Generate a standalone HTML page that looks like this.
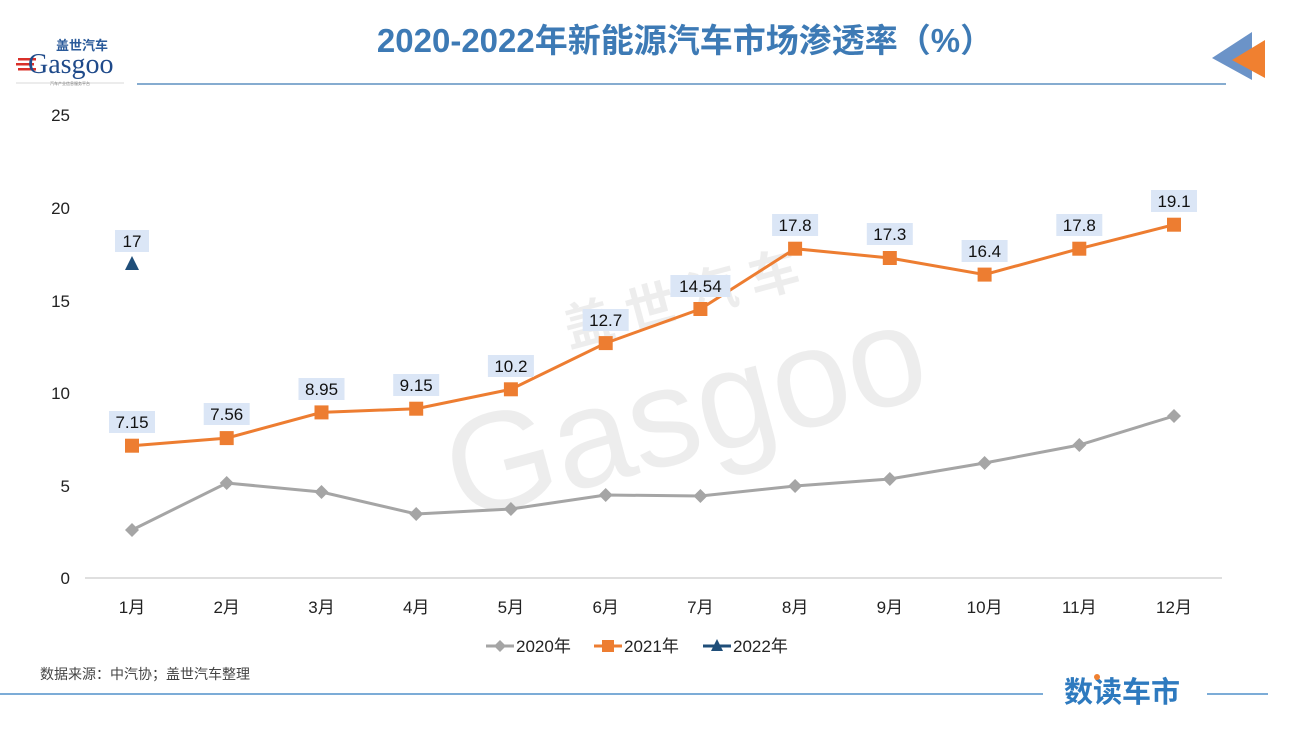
<!DOCTYPE html>
<html><head><meta charset="utf-8"><style>
body{margin:0;background:#fff;}
text{font-family:"Liberation Sans","Noto Sans CJK SC",sans-serif;}
</style></head><body>
<svg width="1298" height="728" xmlns="http://www.w3.org/2000/svg">
<rect width="1298" height="728" fill="#fff"/>
<!-- logo -->
<text x="56" y="50" font-size="13" font-weight="bold" fill="#2a5a9a">盖世汽车</text>
<rect x="18" y="58" width="18" height="2.5" fill="#d9302a"/><rect x="16" y="63" width="18" height="2.5" fill="#d9302a"/><rect x="18" y="68" width="18" height="2.5" fill="#d9302a"/>
<text x="28" y="73" font-size="28" fill="#1f4a8a" style="font-family:'Liberation Serif',serif">Gasgoo</text>
<line x1="16" y1="83" x2="124" y2="83" stroke="#ccc" stroke-width="0.7"/>
<text x="70" y="85" font-size="4" fill="#777" text-anchor="middle">汽车产业信息服务平台</text>
<text x="685" y="52" font-size="33" font-weight="bold" fill="#3d7ab5" text-anchor="middle">2020-2022年新能源汽车市场渗透率（%）</text>
<line x1="137" y1="84" x2="1226" y2="84" stroke="#3d7ab5" stroke-width="1.2"/>
<polygon points="1252,32 1212,58 1252,80" fill="#6b93c8"/>
<polygon points="1265,40 1232,60 1265,78" fill="#f08030"/>
<!-- watermark -->
<g opacity="0.09" fill="#444">
<text x="430" y="470" font-size="140" transform="rotate(-15 640 380)">Gasgoo</text>
<text x="580" y="330" font-size="50" font-weight="bold" transform="rotate(-15 640 380)">盖 世 汽 车</text>
</g>
<!-- y axis labels -->
<g font-size="17" fill="#222" text-anchor="end">
<text x="70" y="121">25</text><text x="70" y="214">20</text><text x="70" y="307">15</text><text x="70" y="399">10</text><text x="70" y="492">5</text><text x="70" y="584">0</text>
</g>
<line x1="85" y1="578" x2="1222" y2="578" stroke="#bfbfbf" stroke-width="1"/>
<g font-size="17" fill="#222" text-anchor="middle">
<text x="132" y="613">1月</text><text x="226.7" y="613">2月</text><text x="321.5" y="613">3月</text><text x="416.2" y="613">4月</text><text x="510.9" y="613">5月</text><text x="605.7" y="613">6月</text><text x="700.4" y="613">7月</text><text x="795.1" y="613">8月</text><text x="889.8" y="613">9月</text><text x="984.6" y="613">10月</text><text x="1079.3" y="613">11月</text><text x="1174" y="613">12月</text>
</g>
<!-- 2020 -->
<polyline fill="none" stroke="#a5a5a5" stroke-width="3" points="132,530 226.7,483 321.5,492 416.2,514 510.9,509 605.7,495 700.4,496 795.1,486 889.8,479 984.6,463 1079.3,445 1174,416"/>
<g fill="#a5a5a5">
<polygon points="132,523 139,530 132,537 125,530"/><polygon points="226.7,476 233.7,483 226.7,490 219.7,483"/><polygon points="321.5,485 328.5,492 321.5,499 314.5,492"/><polygon points="416.2,507 423.2,514 416.2,521 409.2,514"/><polygon points="510.9,502 517.9,509 510.9,516 503.9,509"/><polygon points="605.7,488 612.7,495 605.7,502 598.7,495"/><polygon points="700.4,489 707.4,496 700.4,503 693.4,496"/><polygon points="795.1,479 802.1,486 795.1,493 788.1,486"/><polygon points="889.8,472 896.8,479 889.8,486 882.8,479"/><polygon points="984.6,456 991.6,463 984.6,470 977.6,463"/><polygon points="1079.3,438 1086.3,445 1079.3,452 1072.3,445"/><polygon points="1174,409 1181,416 1174,423 1167,416"/>
</g>
<!-- 2021 -->
<polyline fill="none" stroke="#ed7d31" stroke-width="3" points="132,445.7 226.7,438.1 321.5,412.4 416.2,408.7 510.9,389.3 605.7,343.1 700.4,309 795.1,248.7 889.8,258 984.6,274.6 1079.3,248.7 1174,224.7"/>
<g fill="#ed7d31">
<rect x="125" y="438.7" width="14" height="14"/><rect x="219.7" y="431.1" width="14" height="14"/><rect x="314.5" y="405.4" width="14" height="14"/><rect x="409.2" y="401.7" width="14" height="14"/><rect x="503.9" y="382.3" width="14" height="14"/><rect x="598.7" y="336.1" width="14" height="14"/><rect x="693.4" y="302" width="14" height="14"/><rect x="788.1" y="241.7" width="14" height="14"/><rect x="882.8" y="251" width="14" height="14"/><rect x="977.6" y="267.6" width="14" height="14"/><rect x="1072.3" y="241.7" width="14" height="14"/><rect x="1167" y="217.7" width="14" height="14"/>
</g>
<!-- labels -->
<g fill="#dbe6f6">
<rect x="109" y="411" width="46" height="22"/><rect x="203.7" y="403" width="46" height="22"/><rect x="298.5" y="378" width="46" height="22"/><rect x="393.2" y="374" width="46" height="22"/><rect x="487.9" y="355" width="46" height="22"/><rect x="582.7" y="309" width="46" height="22"/><rect x="670.4" y="275" width="60" height="22"/><rect x="772.1" y="214" width="46" height="22"/><rect x="866.8" y="223" width="46" height="22"/><rect x="961.6" y="240" width="46" height="22"/><rect x="1056.3" y="214" width="46" height="22"/><rect x="1151" y="190" width="46" height="22"/>
<rect x="115" y="230" width="34" height="22"/>
</g>
<g font-size="17" fill="#111" text-anchor="middle">
<text x="132" y="428">7.15</text><text x="226.7" y="420">7.56</text><text x="321.5" y="395">8.95</text><text x="416.2" y="391">9.15</text><text x="510.9" y="372">10.2</text><text x="605.7" y="326">12.7</text><text x="700.4" y="292">14.54</text><text x="795.1" y="231">17.8</text><text x="889.8" y="240">17.3</text><text x="984.6" y="257">16.4</text><text x="1079.3" y="231">17.8</text><text x="1174" y="207">19.1</text>
<text x="132" y="247">17</text>
</g>
<polygon points="132,256 139,270 125,270" fill="#1f4e79"/>
<!-- legend -->
<line x1="486" y1="646" x2="514" y2="646" stroke="#a5a5a5" stroke-width="3"/><polygon points="500,640 506,646 500,652 494,646" fill="#a5a5a5"/>
<text x="516" y="652" font-size="17" fill="#222">2020年</text>
<line x1="594" y1="646" x2="622" y2="646" stroke="#ed7d31" stroke-width="3"/><rect x="602" y="640" width="12" height="12" fill="#ed7d31"/>
<text x="624" y="652" font-size="17" fill="#222">2021年</text>
<line x1="703" y1="646" x2="731" y2="646" stroke="#1f4e79" stroke-width="3"/><polygon points="717,639 723,651 711,651" fill="#1f4e79"/>
<text x="733" y="652" font-size="17" fill="#222">2022年</text>
<text x="40" y="679" font-size="14" fill="#444">数据来源：中汽协；盖世汽车整理</text>
<line x1="0" y1="694" x2="1043" y2="694" stroke="#2e7abf" stroke-width="1.2"/>
<line x1="1207" y1="694" x2="1268" y2="694" stroke="#2e7abf" stroke-width="1.2"/>
<text x="1064" y="702" font-size="29" font-weight="bold" fill="#2e7abf">数读车市</text>
<circle cx="1097" cy="677" r="3" fill="#f08030"/>
</svg>
</body></html>
